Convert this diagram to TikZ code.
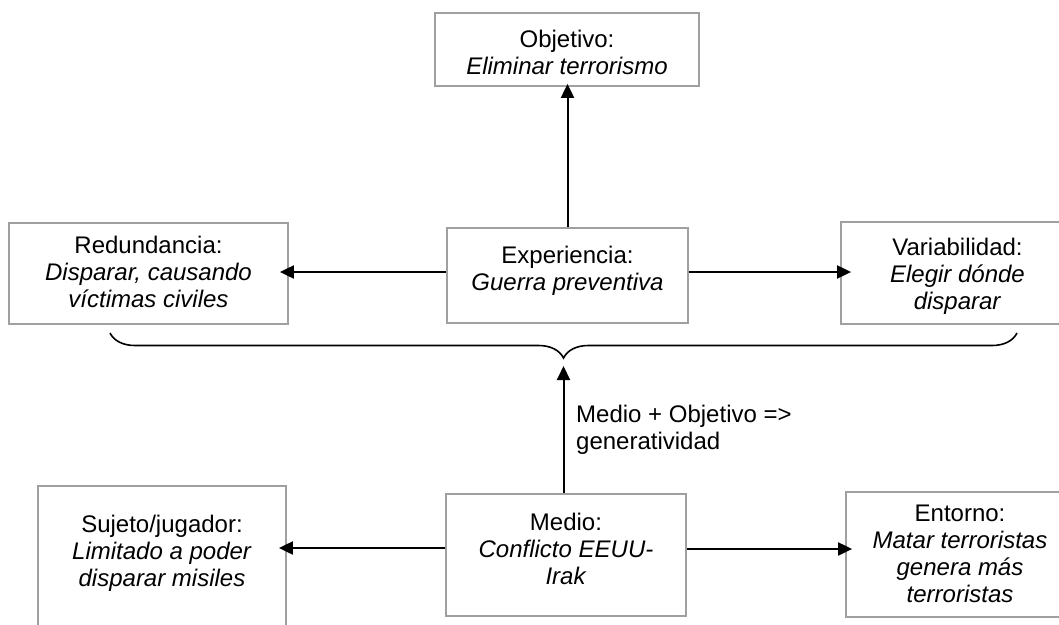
\documentclass[tikz,border=0pt]{standalone}
\usepackage{fontspec}
\setmainfont{Liberation Sans}
\usetikzlibrary{arrows.meta,decorations.pathreplacing}
\definecolor{boxgray}{RGB}{160,160,160}
\begin{document}
\begin{tikzpicture}[x=1pt,y=-1pt,
  box/.style={draw=boxgray, line width=1.8pt, inner sep=0pt, fill=none},
  txt/.style={anchor=north, inner sep=0pt, align=center, font=\fontsize{24}{27}\selectfont},
  arr/.style={draw=black, line width=2pt, -{Triangle[length=14pt,width=13pt]}}]
\useasboundingbox (0,0) rectangle (1059,624);
\clip (0,0) rectangle (1059,624);
% boxes
\node[box, minimum width=264pt, minimum height=73pt] (obj) at (567,49.5) {};
\node[box, minimum width=279pt, minimum height=101pt] (red) at (148.5,273.5) {};
\node[box, minimum width=241pt, minimum height=95pt] (exp) at (567.5,275.5) {};
\node[box, minimum width=233pt, minimum height=102pt] (var) at (957.5,273) {};
\node[box, minimum width=248pt, minimum height=146pt] (suj) at (162,559) {};
\node[box, minimum width=240pt, minimum height=122pt] (med) at (566,555) {};
\node[box, minimum width=228pt, minimum height=125pt] (ent) at (960,554.5) {};
% texts
\node[txt] (tobj) at (567,29.8) {Objetivo:\\\textit{Eliminar terrorismo}};
\node[txt] (tred) at (148.5,235.8) {Redundancia:\\\textit{Disparar, causando}\\\textit{víctimas civiles}};
\node[txt] (texp) at (567.5,245.8) {Experiencia:\\\textit{Guerra preventiva}};
\node[txt] (tvar) at (957.5,237.8) {Variabilidad:\\\textit{Elegir dónde}\\\textit{disparar}};
\node[txt] (tsuj) at (162,514.8) {Sujeto/jugador:\\\textit{Limitado a poder}\\\textit{disparar misiles}};
\node[txt] (tmed) at (566,512.8) {Medio:\\\textit{Conflicto EEUU-}\\\textit{Irak}};
\node[txt] (tent) at (960,504.8) {Entorno:\\\textit{Matar terroristas}\\\textit{genera más}\\\textit{terroristas}};
\node[txt, anchor=north west, align=left] (lbl) at (576,404.8) {Medio + Objetivo =>\\generatividad};
% brace
\draw[line width=1.6pt, decorate, decoration={brace, amplitude=25pt}] (1017,333) -- (110,333);
\coordinate (bt) at (563.5,358);
% connectors
\draw[arr, shorten >=-3pt] (exp.north) -- (exp.north |- obj.south);
\draw[arr, shorten >=-9pt] ([yshift=3.5pt]exp.west) -- ([yshift=3.5pt]exp.west -| red.east);
\draw[arr, shorten >=-11pt] ([yshift=3.5pt]exp.east) -- ([yshift=3.5pt]exp.east -| var.west);
\draw[arr, shorten >=-8pt] ([yshift=7pt]med.west) -- ([yshift=7pt]med.west -| suj.east);
\draw[arr, shorten >=-7pt] ([yshift=6pt]med.east) -- ([yshift=6pt]med.east -| ent.west);
\draw[arr, shorten >=8pt] (med.north -| bt) -- (bt);
\end{tikzpicture}
\end{document}
